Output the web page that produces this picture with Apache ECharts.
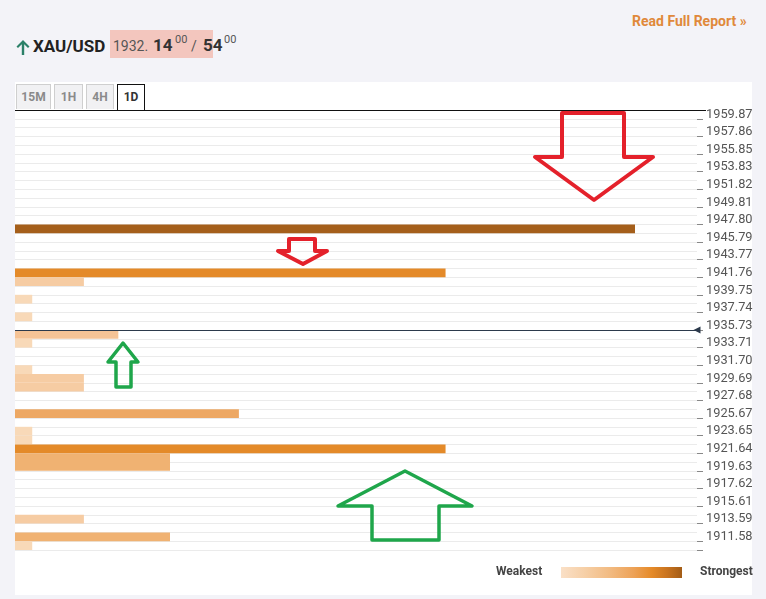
<!DOCTYPE html>
<html><head><meta charset="utf-8">
<script src="https://cdn.jsdelivr.net/npm/echarts@6/dist/echarts.min.js"></script>
<style>
html,body{margin:0;padding:0;}
body{width:766px;height:599px;background:#f3f3f8;position:relative;overflow:hidden;font-family:Roboto,"Noto Sans",sans-serif;}
#panel{position:absolute;left:15px;top:82px;width:737px;height:513px;background:#fff;}
#chart{position:absolute;left:0;top:0;width:766px;height:599px;}
.abs{position:absolute;white-space:nowrap;}
#report{left:632px;top:13px;font-size:14px;font-weight:bold;color:#e0893b;}
#sym{left:33px;top:36px;font-size:17px;font-weight:bold;color:#222;}
#pink{left:110px;top:30px;width:103px;height:28px;background:#f3c6be;}
.ptxt{top:37px;color:#444;}
.tab{position:absolute;top:84px;height:25px;border:1px solid #cfcfcf;border-bottom:none;background:#f1f1f3;color:#8a8a8a;font-size:12px;font-weight:bold;text-align:center;line-height:25px;box-sizing:border-box;}
.tab.active{background:#fff;border:1px solid #111;border-bottom:none;color:#333;height:27px;}
#topline{left:15px;top:110px;width:691px;height:1px;background:#111;}
#legbar{left:561px;top:567px;width:121px;height:11px;background:linear-gradient(90deg,#fae0c7 0%,#f6cfa6 20%,#f2bb82 40%,#eda257 60%,#e58a28 75%,#c8731f 88%,#a35c16 100%);}
.leg{top:564px;font-size:12px;font-weight:bold;color:#444;}
</style></head>
<body>
<div id="panel"></div>
<div class="abs" id="report">Read Full Report &raquo;</div>
<svg class="abs" style="left:15px;top:39px" width="16" height="17" viewBox="0 0 16 17"><path d="M8 1 L14.5 7.5 L13 9 L9.2 5.2 L9.2 16 L6.8 16 L6.8 5.2 L3 9 L1.5 7.5 Z" fill="#2b8068"/></svg>
<div class="abs" id="sym">XAU/USD</div>
<div class="abs" id="pink"></div>
<div class="abs ptxt" style="left:113px;font-size:14px;top:38px;color:#555">1932.</div>
<div class="abs ptxt" style="left:153px;font-size:17px;font-weight:bold;top:35px;color:#333">14</div>
<div class="abs ptxt" style="left:175px;font-size:11px;top:33px;color:#555">00</div>
<div class="abs ptxt" style="left:191px;font-size:14px;top:38px;color:#555">/</div>
<div class="abs ptxt" style="left:203px;font-size:17px;font-weight:bold;top:35px;color:#333">54</div>
<div class="abs ptxt" style="left:224px;font-size:11px;top:33px;color:#555">00</div>
<div class="tab" style="left:16px;width:35px">15M</div>
<div class="tab" style="left:54px;width:29px">1H</div>
<div class="tab" style="left:86px;width:28px">4H</div>
<div class="tab active" style="left:117px;width:28px">1D</div>
<div id="chart"></div>
<div class="abs" id="topline"></div>
<div class="abs leg" style="left:496px">Weakest</div>
<div class="abs" id="legbar"></div>
<div class="abs leg" style="left:700px">Strongest</div>
<script>
// Price tick labels (one label every two rows), top to bottom
const priceLabels = ['1959.87','1957.86','1955.85','1953.83','1951.82','1949.81','1947.80','1945.79','1943.77','1941.76','1939.75','1937.74','1935.73','1933.71','1931.70','1929.69','1927.68','1925.67','1923.65','1921.64','1919.63','1917.62','1915.61','1913.59','1911.58'];
// Confluence strength per row (50 rows, top to bottom)
const strength = [0,0,0,0,0,0,0,0,0,0,
                  0,0,0,36,0,0,0,0,25,4,
                  0,1,0,1,0,6,1,0,0,1,
                  4,4,0,0,13,0,1,1,25,9,
                  9,0,0,0,0,0,4,0,9,1];
const strengthColors = {1:'#f8d9b8',4:'#f6cca3',6:'#f5c396',9:'#f0b272',13:'#eda864',25:'#e48a29',36:'#a55f1b'};
const currentPriceLine = 25; // row boundary just under the 1935.73 row
const xMax = 39.6;

const rows = [];
priceLabels.forEach(p => { rows.push(p); rows.push(p + ' '); });

const chart = echarts.init(document.getElementById('chart'), null, {renderer:'canvas'});
const red = '#e4212b', green = '#1fa64b';
chart.setOption({
  animation:false,
  grid:{left:15, top:110, width:682, height:440},
  xAxis:{type:'value', min:0, max:xMax, show:false},
  yAxis:[{type:'category', data:rows, inverse:true, position:'right',
    axisLine:{show:false, onZero:false},
    axisTick:{show:true, interval:(i)=>i%2===1, length:6, lineStyle:{color:'#888'}},
    axisLabel:{interval:(i)=>i%2===0, color:'#555', fontSize:12.8, margin:9, padding:[4,0,0,0], fontFamily:'Roboto'},
    splitLine:{show:true, interval:0, lineStyle:{color:'#ebebeb', width:1}}
  },{type:'value', min:0, max:rows.length, inverse:true, show:false}],
  series:[{
    type:'bar', barWidth:'100%', silent:true,
    data: strength.map(v => ({value:v, itemStyle:{color: strengthColors[v] || 'transparent'}}))
  },{
    type:'line', yAxisIndex:1, data:[], silent:true,
    markLine:{silent:true, symbol:['none','triangle'], symbolSize:7, symbolRotate:90,
      lineStyle:{color:'#2c3a4c', width:1, type:'solid'}, label:{show:false},
      data:[{yAxis: currentPriceLine}]}
  }],
  graphic:[
    {type:'polygon', shape:{points:[[562,113],[624,113],[624,157],[653,157],[594,200],[535,157],[562,157]]}, style:{fill:'none', stroke:red, lineWidth:4, lineJoin:'round'}, z:100},
    {type:'polygon', shape:{points:[[289,239],[315,239],[315,251],[327,251],[303,264],[278,251],[289,251]]}, style:{fill:'none', stroke:red, lineWidth:4, lineJoin:'round'}, z:100},
    {type:'polygon', shape:{points:[[123,343],[138,362],[131,362],[131,387],[116,387],[116,362],[108,362]]}, style:{fill:'none', stroke:green, lineWidth:3.5, lineJoin:'round'}, z:100},
    {type:'polygon', shape:{points:[[405,471],[472,506],[439,506],[439,540],[372,540],[372,506],[338,506]]}, style:{fill:'none', stroke:green, lineWidth:3.5, lineJoin:'round'}, z:100}
  ]
});
</script>
</body></html>
